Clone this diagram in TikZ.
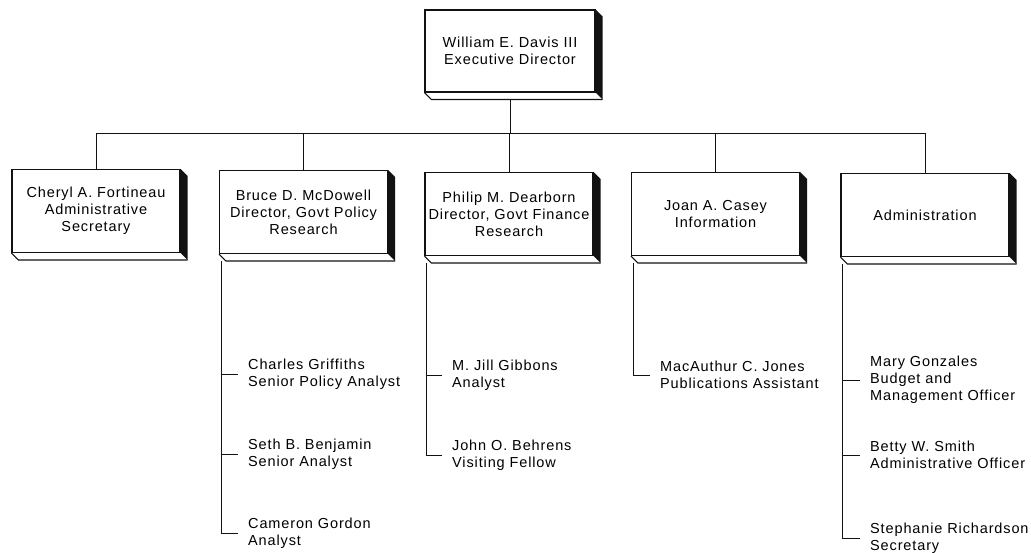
\documentclass[tikz,border=0pt]{standalone}
\usepackage{fontspec}
\setmainfont{Liberation Sans}[LetterSpace=6]
\usepackage{tikz}
\usetikzlibrary{positioning, calc}
\definecolor{inkblack}{rgb}{0.07, 0.07, 0.07}

% raised edge on the right and bottom of a box
\newcommand{\bevel}[1]{%
  \fill[inkblack] (#1.north east) -- ++(7,7) -- ($(#1.south east)+(7,7)$) -- (#1.south east) -- cycle;
  \draw[inkblack, line width=1.1pt] (#1.south west) -- ++(7,7) -- ($(#1.south east)+(7,7)$);
}

\begin{document}
\begin{tikzpicture}[x=1pt, y=-1pt, font=\fontsize{14.5}{17}\selectfont,
    unit/.style={draw=inkblack, line width=1.1pt, fill=white, align=center,
      minimum width=168pt, minimum height=83pt, inner sep=1pt},
    staff/.style={anchor=west, align=left, inner sep=0pt},
    link/.style={draw=inkblack, line width=0.9pt}]
    \useasboundingbox (0,0) rectangle (1031,553);

    % top and second row
    \node[unit, minimum width=170pt, minimum height=82pt] (davis) at (510,51) {William E. Davis III\\Executive Director};
    \node[unit] (fortineau) at (96,211) {Cheryl A. Fortineau\\Administrative\\Secretary};
    \node[unit] (mcdowell) at (303.5,212) {Bruce D. McDowell\\Director, Govt Policy\\Research};
    \node[unit] (dearborn) at (509,214) {Philip M. Dearborn\\Director, Govt Finance\\Research};
    \node[unit] (casey) at (715.5,214) {Joan A. Casey\\Information};
    \node[unit] (administration) at (925,215) {Administration};
    \foreach \u in {davis, fortineau, mcdowell, dearborn, casey, administration}
      \bevel{\u};

    \coordinate (bus) at (510,133);
    \draw[link] ($(davis.south)+(0,7)$) -- (bus);
    \draw[link] (fortineau.north |- bus) -- (administration.north |- bus);
    \foreach \u in {fortineau, mcdowell, dearborn, casey, administration}
      \draw[link] (\u.north) -- (\u.north |- bus);

    % staff under each unit
    \node[staff] (griffiths) at (248,374) {Charles Griffiths\\Senior Policy Analyst};
    \node[staff] (benjamin) at (248,454) {Seth B. Benjamin\\Senior Analyst};
    \node[staff] (gordon) at (248,533) {Cameron Gordon\\Analyst};
    \node[staff] (gibbons) at (452,375) {M. Jill Gibbons\\Analyst};
    \node[staff] (behrens) at (452,455) {John O. Behrens\\Visiting Fellow};
    \node[staff] (jones) at (660,375) {MacAuthur C. Jones\\Publications Assistant};
    \node[staff] (gonzales) at (870,380) {Mary Gonzales\\Budget and\\Management Officer};
    \node[staff] (smith) at (870,455) {Betty W. Smith\\Administrative Officer};
    \node[staff] (richardson) at (870,538) {Stephanie Richardson\\Secretary};

    \coordinate (policytrunk) at ($(mcdowell.south west)+(2,7)$);
    \coordinate (financetrunk) at ($(dearborn.south west)+(2,7)$);
    \coordinate (infotrunk) at ($(casey.south west)+(2,7)$);
    \coordinate (admintrunk) at ($(administration.south west)+(2,7)$);

    \draw[link] (policytrunk) |- ([xshift=-10pt]gordon.west);
    \draw[link] (policytrunk |- griffiths.west) -- ([xshift=-10pt]griffiths.west);
    \draw[link] (policytrunk |- benjamin.west) -- ([xshift=-10pt]benjamin.west);
    \draw[link] (financetrunk) |- ([xshift=-10pt]behrens.west);
    \draw[link] (financetrunk |- gibbons.west) -- ([xshift=-10pt]gibbons.west);
    \draw[link] (infotrunk) |- ([xshift=-10pt]jones.west);
    \draw[link] (admintrunk) |- ([xshift=-10pt]richardson.west);
    \draw[link] (admintrunk |- gonzales.west) -- ([xshift=-10pt]gonzales.west);
    \draw[link] (admintrunk |- smith.west) -- ([xshift=-10pt]smith.west);
\end{tikzpicture}
\end{document}
